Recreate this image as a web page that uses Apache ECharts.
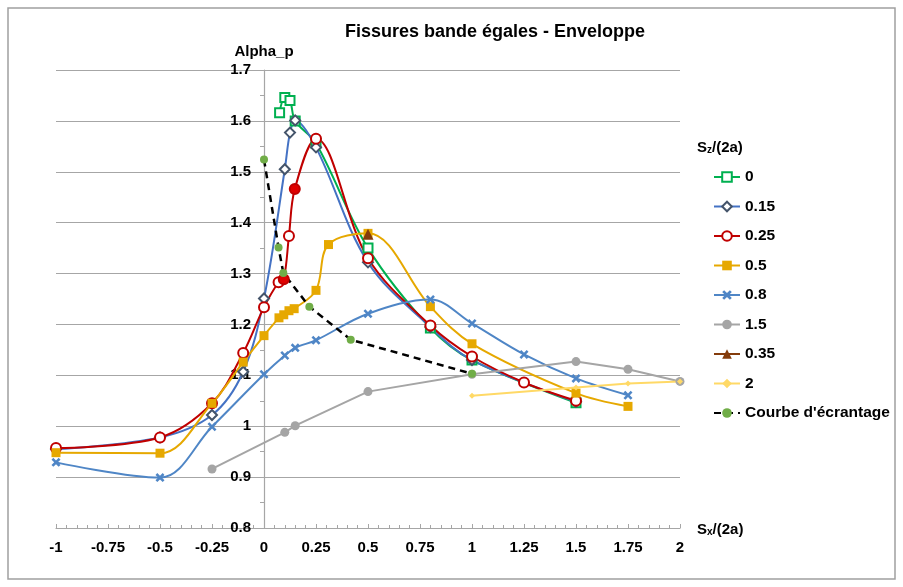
<!DOCTYPE html>
<html>
<head>
<meta charset="utf-8">
<script src="https://cdn.jsdelivr.net/npm/echarts@6/dist/echarts.min.js"></script>
<style>
html,body{margin:0;padding:0;background:#fff;}
#chart{width:903px;height:587px;}
</style>
</head>
<body>
<div id="chart"></div>
<script>
// ---- data ----
const xTicks = [-1, -0.75, -0.5, -0.25, 0, 0.25, 0.5, 0.75, 1, 1.25, 1.5, 1.75, 2];
const yTicks = [0.8, 0.9, 1, 1.1, 1.2, 1.3, 1.4, 1.5, 1.6, 1.7];

const s0_x = [0.075, 0.1, 0.125, 0.15, 0.25, 0.5, 0.8, 1, 1.5];
const s0_y = [1.616, 1.646, 1.640, 1.600, 1.556, 1.350, 1.193, 1.130, 1.046];

const s015_x = [-1, -0.5, -0.25, -0.1, 0, 0.1, 0.125, 0.15, 0.25, 0.5, 0.8, 1, 1.5];
const s015_y = [0.955, 0.978, 1.022, 1.107, 1.251, 1.505, 1.577, 1.601, 1.548, 1.322, 1.195, 1.130, 1.048];

const s025_x = [-1, -0.5, -0.25, -0.1, 0, 0.07, 0.095, 0.12, 0.148, 0.25, 0.5, 0.8, 1, 1.25, 1.5];
const s025_y = [0.957, 0.978, 1.045, 1.144, 1.234, 1.283, 1.289, 1.374, 1.466, 1.565, 1.330, 1.198, 1.137, 1.086, 1.050];
const s025_filled = [0.095, 0.148];

const s05_x = [-1, -0.5, -0.25, -0.1, 0, 0.072, 0.095, 0.12, 0.145, 0.25, 0.31, 0.5, 0.8, 1, 1.5, 1.75];
const s05_y = [0.948, 0.947, 1.045, 1.126, 1.178, 1.213, 1.219, 1.227, 1.231, 1.267, 1.357, 1.379, 1.235, 1.162, 1.065, 1.039];

const s08_x = [-1, -0.5, -0.25, 0, 0.1, 0.15, 0.25, 0.5, 0.8, 1, 1.25, 1.5, 1.75];
const s08_y = [0.929, 0.899, 0.999, 1.102, 1.139, 1.154, 1.169, 1.221, 1.249, 1.202, 1.141, 1.094, 1.061];

const s15_x = [-0.25, 0.1, 0.15, 0.5, 1, 1.5, 1.75, 2];
const s15_y = [0.916, 0.988, 1.001, 1.068, 1.102, 1.127, 1.112, 1.088];

const s035_x = [0.5];
const s035_y = [1.377];

const s2_x = [1, 1.5, 1.75, 2];
const s2_y = [1.060, 1.076, 1.084, 1.088];

const courbe_x = [0, 0.07, 0.093, 0.218, 0.417, 1];
const courbe_y = [1.524, 1.351, 1.301, 1.235, 1.170, 1.103];

const seriesNames = ['0', '0.15', '0.25', '0.5', '0.8', '1.5', '0.35', '2', "Courbe d'écrantage"];

// ---- build ----
const zip = (xs, ys) => xs.map((x, i) => [x, ys[i]]);
const FONT = 'Liberation Sans, Arial, sans-serif';
const GRID_C = '#A6A6A6';
const xMark = 'path://M0,2 L2,0 L5,3 L8,0 L10,2 L7,5 L10,8 L8,10 L5,7 L2,10 L0,8 L3,5 Z';

const chart = echarts.init(document.getElementById('chart'), null, {renderer: 'canvas'});

const s025Data = zip(s025_x, s025_y).map(p =>
  s025_filled.indexOf(p[0]) >= 0 ? {value: p, symbol: 'circle', itemStyle: {color: '#E00000', borderColor: '#C00000'}} : p);

const subRich = {
  a: {fontSize: 15, fontWeight: 'bold', fontFamily: FONT, color: '#000', lineHeight: 18, verticalAlign: 'bottom'},
  b: {fontSize: 10, fontWeight: 'bold', fontFamily: FONT, color: '#000', lineHeight: 10, verticalAlign: 'bottom'}
};

const GRID_LEFT = 56, GRID_W = 624;
// y axis sits at x = 0 -> pixel position inside grid
const yAxisPx = GRID_LEFT + GRID_W * (0 - xTicks[0]) / (xTicks[xTicks.length - 1] - xTicks[0]);

const option = {
  animation: false,
  backgroundColor: '#fff',
  title: [{
    text: 'Fissures bande égales - Enveloppe',
    left: 345, top: 23, padding: 0,
    textStyle: {fontSize: 18, fontWeight: 'bold', fontFamily: FONT, color: '#000'}
  }, {
    text: '{a|S}{b|z}{a|/(2a)}',
    left: 697, top: 137, padding: 0,
    textStyle: {rich: subRich}
  }],
  graphic: [{
    type: 'rect', silent: true,
    shape: {x: 8, y: 8, width: 887, height: 571},
    style: {fill: 'none', stroke: '#A0A0A0', lineWidth: 1.5}
  }],
  legend: {
    orient: 'vertical', left: 713, top: 169, padding: 0,
    itemWidth: 26, itemHeight: 12, itemGap: 13.5,
    data: seriesNames,
    textStyle: {fontSize: 15.5, fontWeight: 'bold', fontFamily: FONT, color: '#000'}
  },
  grid: {left: GRID_LEFT, top: 70, width: GRID_W, height: 458, containLabel: false},
  xAxis: {
    type: 'value', min: -1, max: 2, interval: 0.25,
    name: '{a|S}{b|x}{a|/(2a)}', nameLocation: 'end', nameGap: 17,
    nameTextStyle: {rich: subRich},
    axisLine: {show: true, lineStyle: {color: GRID_C, width: 1.2}},
    axisTick: {show: true, inside: true, length: 4, lineStyle: {color: GRID_C}},
    minorTick: {show: true, splitNumber: 5, length: 3, lineStyle: {color: GRID_C}},
    splitLine: {show: false},
    axisLabel: {margin: 12, fontSize: 15, fontWeight: 'bold', fontFamily: FONT, color: '#000',
      formatter: v => String(xTicks.find(t => Math.abs(t - v) < 1e-9) ?? v)}
  },
  yAxis: {
    type: 'value', min: 0.8, max: 1.7, interval: 0.1,
    name: 'Alpha_p', nameLocation: 'end', nameGap: 11,
    nameTextStyle: {fontSize: 15, fontWeight: 'bold', fontFamily: FONT, color: '#000'},
    axisLine: {show: true, onZero: true, lineStyle: {color: GRID_C, width: 1.2}},
    axisTick: {show: true, inside: false, length: 4, lineStyle: {color: GRID_C}},
    minorTick: {show: true, splitNumber: 2, length: 4, lineStyle: {color: GRID_C}},
    splitLine: {show: true, lineStyle: {color: GRID_C, width: 1.2}},
    axisLabel: {margin: GRID_LEFT - (yAxisPx - 13), fontSize: 15, fontWeight: 'bold', fontFamily: FONT, color: '#000',
      formatter: v => String(yTicks.find(t => Math.abs(t - v) < 1e-9) ?? v)}
  },
  series: [
    {name: '0', type: 'line', smooth: 0.35, data: zip(s0_x, s0_y),
      symbol: 'emptyRect', symbolSize: 9,
      itemStyle: {color: '#00B050', borderWidth: 2},
      lineStyle: {color: '#00B050', width: 2}},
    {name: '0.15', type: 'line', smooth: 0.35, data: zip(s015_x, s015_y),
      symbol: 'emptyDiamond', symbolSize: 10,
      itemStyle: {color: '#44546A', borderWidth: 2},
      lineStyle: {color: '#4472C4', width: 2}},
    {name: '0.25', type: 'line', smooth: 0.35, data: s025Data,
      symbol: 'emptyCircle', symbolSize: 10,
      itemStyle: {color: '#C00000', borderWidth: 2},
      lineStyle: {color: '#C00000', width: 2}},
    {name: '0.5', type: 'line', smooth: 0.35, data: zip(s05_x, s05_y),
      symbol: 'rect', symbolSize: 9,
      itemStyle: {color: '#E6A800'},
      lineStyle: {color: '#E6A800', width: 2}},
    {name: '0.8', type: 'line', smooth: 0.35, data: zip(s08_x, s08_y),
      symbol: xMark, symbolSize: 9,
      itemStyle: {color: '#4F86C6'},
      lineStyle: {color: '#4F86C6', width: 2}},
    {name: '1.5', type: 'line', smooth: false, data: zip(s15_x, s15_y),
      symbol: 'circle', symbolSize: 9,
      itemStyle: {color: '#A5A5A5'},
      lineStyle: {color: '#A5A5A5', width: 2}},
    {name: '0.35', type: 'line', smooth: false, data: zip(s035_x, s035_y),
      symbol: 'triangle', symbolSize: 11,
      itemStyle: {color: '#843C0C'},
      lineStyle: {color: '#843C0C', width: 2}},
    {name: '2', type: 'line', smooth: false, data: zip(s2_x, s2_y),
      symbol: 'diamond', symbolSize: 6,
      itemStyle: {color: '#FFD966'},
      lineStyle: {color: '#FFD966', width: 2}},
    {name: "Courbe d'écrantage", type: 'line', smooth: false, data: zip(courbe_x, courbe_y),
      symbol: 'circle', symbolSize: 8,
      itemStyle: {color: '#70AD47'},
      lineStyle: {color: '#000', width: 2.5, type: [7, 5]}}
  ]
};
chart.setOption(option);
</script>
</body>
</html>
